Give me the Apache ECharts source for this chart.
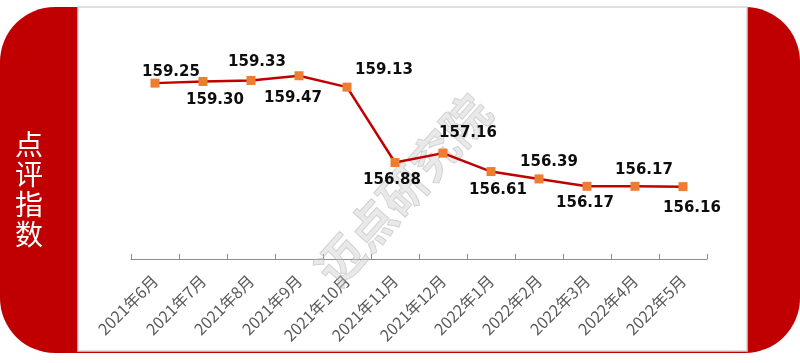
<!DOCTYPE html>
<html>
<head>
<meta charset="utf-8">
<script src="https://cdn.jsdelivr.net/npm/echarts@6/dist/echarts.min.js"></script>
<style>
html,body{margin:0;padding:0;background:#fff;}
#chart{width:800px;height:363px;}
</style>
</head>
<body>
<div id="chart"></div>
<script>
// ---- data ----
const categories = ['2021年6月','2021年7月','2021年8月','2021年9月','2021年10月','2021年11月','2021年12月','2022年1月','2022年2月','2022年3月','2022年4月','2022年5月'];
const values = [159.25, 159.30, 159.33, 159.47, 159.13, 156.88, 157.16, 156.61, 156.39, 156.17, 156.17, 156.16];
const sideTitle = '点评指数';
const watermark = '迈点研究院';

// ---- layout (label placement, not data) ----
const labelOffsets = [[16,-11],[12,19],[6,-18],[-6,22],[37,-17],[-3,18],[25,-20],[7,19],[10,-17],[-2,17],[9,-16],[9,21]];

const chart = echarts.init(document.getElementById('chart'), null, {renderer:'canvas'});
const seriesData = values.map((v,i)=>({
  value: v,
  label: { offset: labelOffsets[i] }
}));

chart.setOption({
  animation: false,
  grid: { left: 131, right: 93, top: 58, bottom: 104 },
  xAxis: {
    type: 'category',
    data: categories,
    boundaryGap: true,
    axisLine: { lineStyle: { color: '#8c8c8c', width: 1 } },
    axisTick: { show: true, inside: true, length: 5, lineStyle: { color: '#8c8c8c' } },
    axisLabel: { rotate: 45, interval: 0, color: '#595959', fontSize: 16, fontFamily: 'Noto Sans CJK SC', margin: 19 }
  },
  yAxis: { type: 'value', min: 154, max: 160, show: false, splitLine: { show: false } },
  graphic: [
    { type: 'rect', z: 0, shape: { x: 0, y: 7, width: 800, height: 346, r: 55 }, style: { fill: '#C00000' } },
    { type: 'rect', z: 0, shape: { x: 78, y: 7, width: 669, height: 344 }, style: { fill: '#ffffff', stroke: '#d6d6d6', lineWidth: 1.5 } },
    { type: 'text', z: 0, x: 29, y: 189, style: { text: sideTitle.split('').join('\n'), fill: '#ffffff', font: '28px "Noto Sans CJK SC"', lineHeight: 30, align: 'center', verticalAlign: 'middle' } },
    { type: 'text', z: 1, x: 403, y: 190, rotation: 0.84, style: { text: watermark, fill: 'rgba(200,200,200,0.4)', stroke: 'rgba(165,165,165,0.45)', lineWidth: 1, font: 'bold 47px "Noto Sans CJK SC"', align: 'center', verticalAlign: 'middle' } }
  ],
  series: [{
    type: 'line',
    data: seriesData,
    symbol: 'rect',
    symbolSize: 9,
    itemStyle: { color: '#ED7D31' },
    lineStyle: { color: '#C00000', width: 2.5 },
    label: {
      show: true,
      position: 'inside',
      formatter: p => p.value.toFixed(2),
      color: '#0d0d0d',
      fontSize: 15,
      fontWeight: 'bold',
      fontFamily: 'DejaVu Sans'
    }
  }]
});
</script>
</body>
</html>
